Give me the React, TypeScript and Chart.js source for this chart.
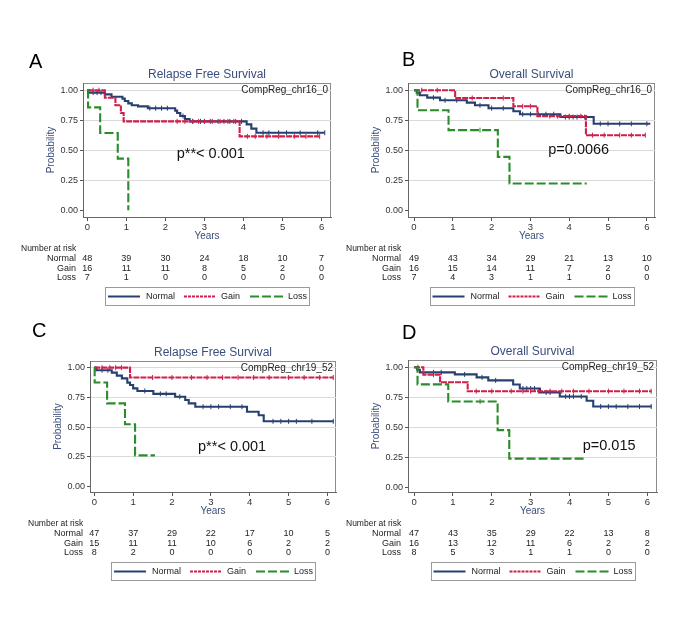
import React, { useEffect, useRef } from "react";
import { Chart, registerables } from "chart.js";
Chart.register(...registerables);

const W = 685;
const H = 644;
const FONT = '"Liberation Sans", Arial, Helvetica, sans-serif';
const NAVY_TXT = "#3b4d7c";

const xTicks = [0, 1, 2, 3, 4, 5, 6];
const yTicks = [0, 0.25, 0.5, 0.75, 1];
const groupNames = ["Normal", "Gain", "Loss"];

// ---------- Panel A : Relapse Free Survival, CompReg_chr16_0 ----------
const aNormalT = [0, 0.03, 0.45, 0.62, 0.9, 0.96, 1.05, 1.14, 1.3, 1.55, 2.25, 2.3, 2.38, 2.5, 2.62, 4.08, 4.2, 4.33, 6.08];
const aNormalS = [1, 0.98, 0.965, 0.945, 0.93, 0.91, 0.89, 0.875, 0.865, 0.85, 0.83, 0.81, 0.785, 0.76, 0.74, 0.715, 0.68, 0.645, 0.645];
const aNormalC = [0.15, 0.25, 0.35, 1.6, 1.75, 1.9, 2.05, 2.45, 2.7, 2.9, 3.0, 3.15, 3.35, 3.5, 3.65, 3.8, 3.95, 4.5, 4.65, 4.9, 5.1, 5.45, 5.9, 6.08];
const aGainT = [0, 0.45, 0.72, 0.86, 0.93, 3.9, 5.95];
const aGainS = [1, 0.9375, 0.875, 0.81, 0.74, 0.615, 0.615];
const aGainC = [0.15, 0.3, 2.3, 2.5, 2.7, 2.85, 3.0, 3.2, 3.4, 3.6, 3.75, 4.1, 4.3, 4.6, 4.9, 5.3, 5.6, 5.95];
const aLossT = [0, 0.02, 0.33, 0.78, 1.05, 1.05];
const aLossS = [1, 0.857, 0.643, 0.43, 0, 0];
const aLossC: number[] = [];
const aRiskNormal = [48, 39, 30, 24, 18, 10, 7];
const aRiskGain = [16, 11, 11, 8, 5, 2, 0];
const aRiskLoss = [7, 1, 0, 0, 0, 0, 0];

// ---------- Panel B : Overall Survival, CompReg_chr16_0 ----------
const bNormalT = [0, 0.07, 0.15, 0.34, 0.67, 1.36, 1.57, 1.92, 2.56, 2.73, 3.77, 4.63, 6.09];
const bNormalS = [1, 0.98, 0.958, 0.938, 0.916, 0.896, 0.874, 0.85, 0.825, 0.8, 0.776, 0.72, 0.72];
const bNormalC = [0.5, 0.8, 1.1, 1.7, 2.0, 2.3, 2.8, 3.0, 3.2, 3.4, 3.6, 3.9, 4.0, 4.1, 4.2, 4.4, 4.8, 5.0, 5.3, 5.6, 6.0];
const bGainT = [0, 1.06, 2.56, 3.18, 4.43, 5.96];
const bGainS = [1, 0.935, 0.866, 0.784, 0.625, 0.625];
const bGainC = [0.2, 0.6, 1.5, 2.3, 2.8, 3.0, 3.5, 3.7, 4.0, 4.3, 4.6, 4.9, 5.3, 5.6, 5.96];
const bLossT = [0, 0.09, 0.89, 2.16, 2.46, 4.45];
const bLossS = [1, 0.833, 0.667, 0.444, 0.222, 0.222];
const bLossC = [1.7];
const bRiskNormal = [49, 43, 34, 29, 21, 13, 10];
const bRiskGain = [16, 15, 14, 11, 7, 2, 0];
const bRiskLoss = [7, 4, 3, 1, 1, 0, 0];

// ---------- Panel C : Relapse Free Survival, CompReg_chr19_52 ----------
const cNormalT = [0, 0.05, 0.45, 0.58, 0.71, 0.85, 0.92, 1.0, 1.11, 1.52, 2.08, 2.34, 2.43, 2.6, 3.93, 4.23, 4.36, 6.15];
const cNormalS = [1, 0.978, 0.958, 0.933, 0.91, 0.874, 0.854, 0.826, 0.804, 0.78, 0.756, 0.728, 0.7, 0.672, 0.63, 0.6, 0.549, 0.549];
const cNormalC = [0.2, 0.35, 1.3, 1.7, 1.85, 2.2, 2.8, 3.0, 3.2, 3.5, 3.8, 4.6, 4.8, 5.0, 5.2, 5.6, 6.15];
const cGainT = [0, 0.92, 6.15];
const cGainS = [1, 0.917, 0.917];
const cGainC = [0.2, 0.4, 0.55, 0.7, 1.5, 2.0, 2.5, 2.9, 3.3, 3.7, 4.1, 4.5, 5.0, 5.4, 5.8, 6.15];
const cLossT = [0, 0.01, 0.33, 0.79, 1.05, 1.56];
const cLossS = [1, 0.875, 0.7, 0.525, 0.263, 0.263];
const cLossC: number[] = [];
const cRiskNormal = [47, 37, 29, 22, 17, 10, 5];
const cRiskGain = [15, 11, 11, 10, 6, 2, 2];
const cRiskLoss = [8, 2, 0, 0, 0, 0, 0];

// ---------- Panel D : Overall Survival, CompReg_chr19_52 ----------
const dNormalT = [0, 0.08, 0.15, 1.05, 1.61, 1.91, 2.55, 2.72, 3.24, 3.75, 4.44, 4.61, 6.11];
const dNormalS = [1, 0.979, 0.957, 0.94, 0.915, 0.89, 0.856, 0.823, 0.79, 0.756, 0.72, 0.672, 0.672];
const dNormalC = [0.5, 0.7, 1.3, 1.75, 2.1, 2.8, 2.9, 3.0, 3.1, 3.4, 3.5, 3.9, 4.0, 4.1, 4.3, 4.8, 5.0, 5.2, 5.5, 5.8, 6.1];
const dGainT = [0, 0.24, 0.67, 1.38, 6.11];
const dGainS = [1, 0.9375, 0.875, 0.8, 0.8];
const dGainC = [0.1, 0.5, 1.6, 2.0, 2.5, 2.8, 3.0, 3.2, 3.5, 3.8, 4.1, 4.5, 5.0, 5.4, 5.8, 6.1];
const dLossT = [0, 0.09, 0.88, 2.15, 2.45, 4.44];
const dLossS = [1, 0.857, 0.714, 0.476, 0.238, 0.238];
const dLossC = [1.7];
const dRiskNormal = [47, 43, 35, 29, 22, 13, 8];
const dRiskGain = [16, 13, 12, 11, 6, 2, 2];
const dRiskLoss = [8, 5, 3, 1, 1, 0, 0];

const groupStyle = [
  { color: "#27406f", dash: [] as number[] },
  { color: "#cf1f4a", dash: [6, 1] },
  { color: "#2a8c2a", dash: [9, 3] },
];

type Group = { t: number[]; s: number[]; c: number[]; risk: number[] };
type PanelCfg = {
  letter: string;
  letterPos: [number, number];
  title: string;
  tag: string;
  pText: string;
  pAt: [number, number];
  area: { l: number; t: number; r: number; b: number };
  xr: [number, number];
  yr: [number, number];
  groups: Group[];
};

const panels: PanelCfg[] = [
  {
    letter: "A", letterPos: [29, 62], title: "Relapse Free Survival", tag: "CompReg_chr16_0",
    pText: "p**< 0.001", pAt: [2.29, 0.47],
    area: { l: 83, t: 83, r: 331, b: 217 }, xr: [-0.11, 6.24], yr: [-0.057, 1.06],
    groups: [
      { t: aNormalT, s: aNormalS, c: aNormalC, risk: aRiskNormal },
      { t: aGainT, s: aGainS, c: aGainC, risk: aRiskGain },
      { t: aLossT, s: aLossS, c: aLossC, risk: aRiskLoss },
    ],
  },
  {
    letter: "B", letterPos: [402, 60], title: "Overall Survival", tag: "CompReg_chr16_0",
    pText: "p=0.0066", pAt: [3.46, 0.5],
    area: { l: 408, t: 83, r: 655, b: 217 }, xr: [-0.155, 6.21], yr: [-0.057, 1.06],
    groups: [
      { t: bNormalT, s: bNormalS, c: bNormalC, risk: bRiskNormal },
      { t: bGainT, s: bGainS, c: bGainC, risk: bRiskGain },
      { t: bLossT, s: bLossS, c: bLossC, risk: bRiskLoss },
    ],
  },
  {
    letter: "C", letterPos: [32, 331], title: "Relapse Free Survival", tag: "CompReg_chr19_52",
    pText: "p**< 0.001", pAt: [2.67, 0.336],
    area: { l: 90, t: 361, r: 336, b: 492 }, xr: [-0.11, 6.22], yr: [-0.045, 1.056],
    groups: [
      { t: cNormalT, s: cNormalS, c: cNormalC, risk: cRiskNormal },
      { t: cGainT, s: cGainS, c: cGainC, risk: cRiskGain },
      { t: cLossT, s: cLossS, c: cLossC, risk: cRiskLoss },
    ],
  },
  {
    letter: "D", letterPos: [402, 333], title: "Overall Survival", tag: "CompReg_chr19_52",
    pText: "p=0.015", pAt: [4.34, 0.341],
    area: { l: 408, t: 360, r: 657, b: 492 }, xr: [-0.155, 6.25], yr: [-0.04, 1.06],
    groups: [
      { t: dNormalT, s: dNormalS, c: dNormalC, risk: dRiskNormal },
      { t: dGainT, s: dGainS, c: dGainC, risk: dRiskGain },
      { t: dLossT, s: dLossS, c: dLossC, risk: dRiskLoss },
    ],
  },
];

function survAt(t: number, ts: number[], ss: number[]) {
  let v = ss[0];
  for (let i = 0; i < ts.length; i++) if (ts[i] <= t) v = ss[i];
  return v;
}

function makeConfig(p: PanelCfg): any {
  const a = p.area;
  const yTitleX = a.l - 31.5;
  const padLeft = yTitleX - 6;
  const xAxisH = 25.5;
  const datasets: any[] = [];
  p.groups.forEach((g, i) => {
    const st = groupStyle[i];
    datasets.push({
      label: groupNames[i],
      data: g.t.map((t, k) => ({ x: t, y: g.s[k] })),
      stepped: true,
      borderColor: st.color,
      borderWidth: 2.1,
      borderDash: st.dash,
      pointRadius: 0,
      fill: false,
      order: 6 - 2 * i,
    });
    datasets.push({
      label: groupNames[i] + " censored",
      data: g.c.map((t) => ({ x: t, y: survAt(t, g.t, g.s) })),
      showLine: false,
      pointStyle: "line",
      rotation: 90,
      pointRadius: 2.5,
      pointBorderWidth: 1,
      pointBorderColor: st.color,
      borderColor: st.color,
      order: 5 - 2 * i,
    });
  });

  const decor = {
    id: "decor" + p.letter,
    beforeDraw(chart: any) {
      const ctx = chart.ctx;
      const ca = chart.chartArea;
      ctx.save();
      ctx.strokeStyle = "#8c8c8c";
      ctx.lineWidth = 1;
      ctx.strokeRect(ca.left + 0.5, ca.top + 0.5, ca.right - ca.left - 1, ca.bottom - ca.top);
      ctx.restore();
    },
    afterDraw(chart: any) {
      const ctx = chart.ctx;
      const ca = chart.chartArea;
      const xs = chart.scales.x;
      const ys = chart.scales.y;
      const cx = (ca.left + ca.right) / 2;
      ctx.save();
      ctx.textBaseline = "middle";
      // panel letter
      ctx.fillStyle = "#000";
      ctx.textAlign = "left";
      ctx.font = `20px ${FONT}`;
      ctx.fillText(p.letter, p.letterPos[0], p.letterPos[1]);
      // title
      ctx.fillStyle = NAVY_TXT;
      ctx.textAlign = "center";
      ctx.font = `12px ${FONT}`;
      ctx.fillText(p.title, cx, ca.top - 8.5);
      // tag
      ctx.fillStyle = "#222";
      ctx.textAlign = "right";
      ctx.font = `10px ${FONT}`;
      ctx.fillText(p.tag, ca.right - 3, ca.top + 7.5);
      // p value
      ctx.textAlign = "left";
      ctx.fillStyle = "#111";
      ctx.font = `14.5px ${FONT}`;
      ctx.fillText(p.pText, xs.getPixelForValue(p.pAt[0]), ys.getPixelForValue(p.pAt[1]));
      // number at risk
      ctx.fillStyle = "#222";
      ctx.font = `8.5px ${FONT}`;
      ctx.textAlign = "left";
      ctx.fillText("Number at risk", ca.left - 62, ca.bottom + 31.5);
      ctx.font = `9px ${FONT}`;
      p.groups.forEach((g, i) => {
        const y = ca.bottom + 41.5 + 10 * i - (i === 2 ? 0.5 : 0);
        ctx.textAlign = "right";
        ctx.fillText(groupNames[i], ca.left - 7, y);
        ctx.textAlign = "center";
        g.risk.forEach((n, k) => {
          ctx.fillText(String(n), xs.getPixelForValue(xTicks[k]), y);
        });
      });
      // legend
      const lw = 204;
      const lx = cx - 102;
      const ly = ca.bottom + 69.5;
      ctx.strokeStyle = "#9a9a9a";
      ctx.lineWidth = 1;
      ctx.strokeRect(Math.round(lx) + 0.5, Math.round(ly) + 0.5, lw, 18);
      const lineX = [[3, 35], [79, 110], [145, 178]];
      const textX = [41, 116, 183];
      const my = Math.round(ly) + 9.5;
      groupNames.forEach((nm, i) => {
        const st = groupStyle[i];
        ctx.strokeStyle = st.color;
        ctx.lineWidth = 2;
        ctx.setLineDash(i === 1 ? [3, 1] : st.dash);
        ctx.beginPath();
        ctx.moveTo(lx + lineX[i][0], my);
        ctx.lineTo(lx + lineX[i][1], my);
        ctx.stroke();
        ctx.setLineDash([]);
        ctx.fillStyle = "#222";
        ctx.textAlign = "left";
        ctx.font = `9px ${FONT}`;
        ctx.fillText(nm, lx + textX[i], my);
      });
      ctx.restore();
    },
  };

  return {
    type: "line",
    data: { datasets },
    options: {
      responsive: false,
      animation: false,
      devicePixelRatio: 1,
      events: [],
      layout: { padding: { left: padLeft, top: a.t, right: W - a.r, bottom: H - a.b - xAxisH } },
      plugins: { legend: { display: false }, title: { display: false }, tooltip: { enabled: false } },
      scales: {
        x: {
          type: "linear",
          min: p.xr[0],
          max: p.xr[1],
          afterBuildTicks: (s: any) => { s.ticks = xTicks.map((v) => ({ value: v })); },
          afterFit: (s: any) => { s.height = xAxisH; },
          grid: { drawOnChartArea: false, drawTicks: true, tickLength: 4, tickColor: "#555" },
          border: { display: true, color: "#666" },
          ticks: { font: { size: 9.5, family: FONT }, color: "#333", padding: 1, maxRotation: 0, autoSkip: false, callback: (v: any) => String(v) },
          title: { display: true, text: "Years", color: NAVY_TXT, font: { size: 10, family: FONT }, padding: 0 },
        },
        y: {
          type: "linear",
          min: p.yr[0],
          max: p.yr[1],
          afterBuildTicks: (s: any) => { s.ticks = yTicks.map((v) => ({ value: v })); },
          afterFit: (s: any) => { s.width = a.l - padLeft; },
          grid: {
            color: (c: any) => (c.tick && c.tick.value === 0 ? "rgba(0,0,0,0)" : "#dadada"),
            drawTicks: true,
            tickLength: 3,
            tickColor: "#555",
          },
          border: { display: true, color: "#666" },
          ticks: { font: { size: 9, family: FONT }, color: "#333", padding: 2, callback: (v: any) => Number(v).toFixed(2) },
          title: { display: true, text: "Probability", color: NAVY_TXT, font: { size: 10, family: FONT }, padding: 0 },
        },
      },
    },
    plugins: [decor],
  };
}

function Panel({ p }: { p: PanelCfg }) {
  const ref = useRef<HTMLCanvasElement | null>(null);
  useEffect(() => {
    if (!ref.current) return;
    const chart = new Chart(ref.current, makeConfig(p));
    return () => chart.destroy();
  }, [p]);
  return (
    <canvas
      ref={ref}
      width={W}
      height={H}
      style={{ position: "absolute", left: 0, top: 0, width: W, height: H }}
    />
  );
}

export default function App() {
  Chart.defaults.font.family = FONT;
  return (
    <div style={{ position: "absolute", left: 0, top: 0, width: W, height: H, background: "#fff", overflow: "hidden" }}>
      {panels.map((p) => (
        <Panel key={p.letter} p={p} />
      ))}
    </div>
  );
}
